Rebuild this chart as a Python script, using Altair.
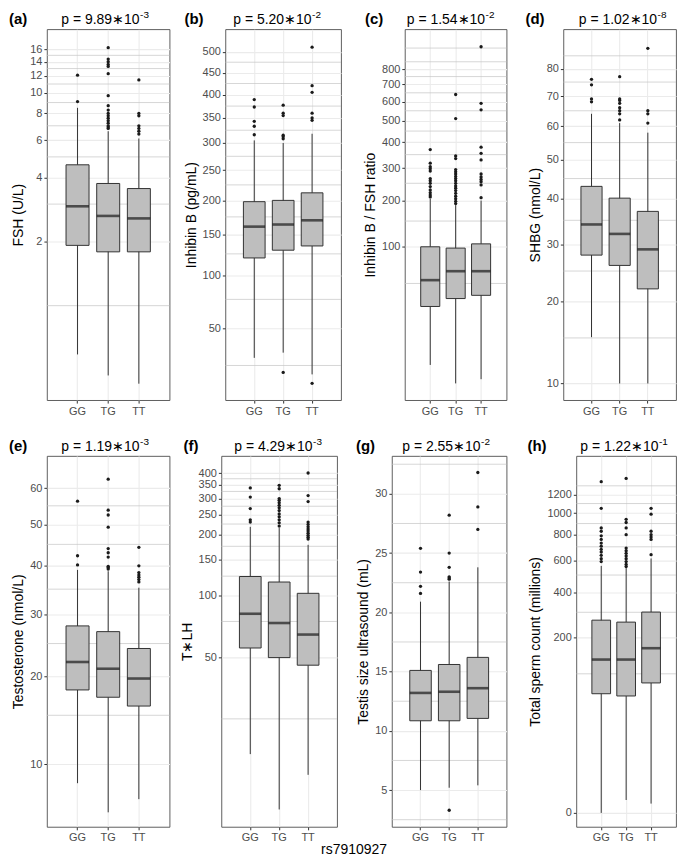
import altair as alt
import pandas as pd

GENOTYPES = ["GG", "TG", "TT"]

# ---------------- (a) FSH ----------------
FSH_LOWER = [0.59, 0.47, 0.43]
FSH_Q1 = [1.92, 1.79, 1.79]
FSH_MED = [2.93, 2.64, 2.57]
FSH_Q3 = [4.59, 3.75, 3.55]
FSH_UPPER = [8.5, 6.6, 6.1]
FSH_OUT_GG = [9.1, 12.1]
FSH_OUT_TG = [6.8, 6.9, 7.0, 7.2, 7.4, 7.6, 7.8, 8.0, 8.3, 8.7, 9.7, 12.3, 13.3, 13.6, 14.0, 14.4, 16.3]
FSH_OUT_TT = [6.4, 6.6, 6.8, 7.0, 7.8, 8.0, 11.5]
FSH_TICKS = [2, 4, 6, 8, 10, 12, 14, 16]
FSH_MINOR = [1, 3, 5, 7, 9, 11, 13, 15]

# ---------------- (b) Inhibin B ----------------
INH_LOWER = [29.4, 32.6, 20.3]
INH_Q1 = [120, 129.6, 135]
INH_MED = [161, 164, 170]
INH_Q3 = [198, 200, 212]
INH_UPPER = [305, 300, 318]
INH_OUT_GG = [316, 333, 343, 373, 389]
INH_OUT_TG = [21.3, 308, 312, 315, 355, 360, 377]
INH_OUT_TT = [16.1, 345, 350, 360, 405, 420, 512]
INH_TICKS = [50, 100, 150, 200, 250, 300, 350, 400, 450, 500]
INH_MINOR = [25, 75, 125, 175, 225, 275, 325, 375, 425, 475]

# ---------------- (c) Inhibin B / FSH ----------------
RAT_LOWER = [3.77, 1.24, 1.66]
RAT_Q1 = [29.3, 35.6, 38.4]
RAT_MED = [53.6, 64.2, 64.2]
RAT_Q3 = [100, 97.8, 105]
RAT_UPPER = [205, 188, 200]
RAT_OUT_GG = [210, 215, 222, 230, 240, 250, 258, 265, 290, 298, 305, 318, 370]
RAT_OUT_TG = [192, 198, 205, 212, 220, 228, 235, 242, 250, 258, 265, 272, 280, 288, 295, 335, 345, 510, 640]
RAT_OUT_TT = [208, 245, 255, 262, 270, 280, 330, 355, 380, 555, 590, 960]
RAT_TICKS = [100, 200, 300, 400, 500, 600, 700, 800]
RAT_MINOR = [50, 150, 250, 350, 450, 550, 650, 750, 850, 950]

# ---------------- (d) SHBG ----------------
SHBG_LOWER = [15.1, 10, 10]
SHBG_Q1 = [27.9, 26.0, 22.0]
SHBG_MED = [34.1, 32.1, 29.0]
SHBG_Q3 = [43.0, 40.1, 37.0]
SHBG_UPPER = [64, 61, 58]
SHBG_OUT_GG = [68, 69, 74, 76]
SHBG_OUT_TG = [62, 64, 65, 66, 67.5, 68.5, 69, 77]
SHBG_OUT_TT = [61, 64, 65, 88]
SHBG_TICKS = [10, 20, 30, 40, 50, 60, 70, 80]
SHBG_MINOR = [15, 25, 35, 45, 55, 65, 75, 85]

# ---------------- (e) Testosterone ----------------
TES_LOWER = [8.4, 6.3, 7.2]
TES_Q1 = [18.15, 17.2, 16.1]
TES_MED = [22.1, 21.1, 19.7]
TES_Q3 = [28.0, 27.0, 24.2]
TES_UPPER = [39.1, 38.8, 35.3]
TES_OUT_GG = [40.2, 42.3, 56.3]
TES_OUT_TG = [39.3, 39.6, 39.9, 42.0, 43.0, 44.0, 49.3, 52.5, 53.8, 62.7]
TES_OUT_TT = [36.5, 37.0, 37.5, 38.0, 38.5, 40.0, 44.3]
TES_TICKS = [10, 20, 30, 40, 50, 60]
TES_MINOR = [15, 25, 35, 45, 55]

# ---------------- (f) T*LH ----------------
TLH_LOWER = [16.8, 9.0, 13.3]
TLH_Q1 = [55.6, 49.9, 45.8]
TLH_MED = [81.8, 73.7, 64.7]
TLH_Q3 = [124.5, 117, 103]
TLH_UPPER = [218, 215, 178]
TLH_OUT_GG = [230, 236, 268, 305, 338]
TLH_OUT_TG = [220, 228, 236, 244, 252, 262, 270, 278, 286, 294, 300, 335, 348]
TLH_OUT_TT = [190, 194, 198, 203, 208, 213, 218, 224, 230, 290, 310, 400]
TLH_TICKS = [50, 100, 150, 200, 250, 300, 350, 400]
TLH_MINOR = [25, 75, 125, 175, 225, 275, 325, 375]

# ---------------- (g) Testis size ----------------
TST_LOWER = [5.0, 5.2, 5.4]
TST_Q1 = [10.85, 10.85, 11.05]
TST_MED = [13.2, 13.3, 13.6]
TST_Q3 = [15.1, 15.6, 16.2]
TST_UPPER = [20.9, 22.6, 23.8]
TST_OUT_GG = [21.6, 22.2, 23.4, 25.4]
TST_OUT_TG = [3.3, 22.8, 22.9, 23.0, 23.8, 25.0, 28.2]
TST_OUT_TT = [27.0, 28.9, 31.8]
TST_TICKS = [5, 10, 15, 20, 25, 30]
TST_MINOR = [2.5, 7.5, 12.5, 17.5, 22.5, 27.5, 32.5]

# ---------------- (h) Total sperm count ----------------
SPC_LOWER = [0, 0.08, 0.03]
SPC_Q1 = [62.9, 59.4, 81.6]
SPC_MED = [134, 134, 166]
SPC_Q3 = [266, 258, 301]
SPC_UPPER = [560, 545, 612]
SPC_OUT_GG = [590, 610, 635, 660, 680, 705, 730, 760, 790, 830, 860, 1050, 1350]
SPC_OUT_TG = [555, 570, 590, 610, 630, 650, 670, 690, 800, 860, 910, 940, 1390]
SPC_OUT_TT = [640, 760, 780, 800, 830, 990, 1050]
SPC_TICKS = [0, 200, 400, 600, 800, 1000, 1200]
SPC_MINOR = [100, 300, 500, 700, 900, 1100, 1300]

FONT = "Liberation Sans"
H = 372


def panel(letter, pmain, pexp, ytitle, scale, ticks, minors, lower, q1, med, q3,
          upper, outs, width, lab_dx=-38, title_dx=0, extra=None):
    box_df = pd.DataFrame({"g": GENOTYPES, "lower": lower, "q1": q1, "med": med,
                           "q3": q3, "upper": upper})
    out_df = pd.DataFrame([{"g": g, "v": v} for g, vals in zip(GENOTYPES, outs) for v in vals])
    minor_df = pd.DataFrame({"m": minors})
    one = pd.DataFrame({"k": [0]})

    band = 0.75 * width / 4.0
    xs = alt.Scale(type="band", domain=GENOTYPES, paddingInner=0.25, paddingOuter=0.625)
    xax = alt.Axis(title=None, labelAngle=0, bandPosition=0.5, grid=True,
                   gridColor="#ebebeb", gridWidth=1.1, labelPadding=2)
    X = alt.X("g:N", scale=xs, axis=xax, sort=GENOTYPES)
    yax = alt.Axis(values=ticks, title=ytitle, grid=True, gridColor="#ebebeb",
                   gridWidth=1.1, labelPadding=2, titlePadding=4, format="d")

    minor = alt.Chart(minor_df).mark_rule(color="#c4c4c4", strokeWidth=0.7).encode(
        y=alt.Y("m:Q", scale=scale, axis=yax))
    whisk = alt.Chart(box_df).mark_rule(color="#333333", strokeWidth=1).encode(
        x=X, y=alt.Y("lower:Q", scale=scale, axis=yax), y2="upper:Q")
    box = alt.Chart(box_df).mark_bar(fill="#bebebe", stroke="#333333", strokeWidth=1).encode(
        x=X, y=alt.Y("q1:Q", scale=scale, axis=yax), y2="q3:Q")
    medi = alt.Chart(box_df).mark_tick(color="#1a1a1a", thickness=2.6, size=band).encode(
        x=X, y=alt.Y("med:Q", scale=scale, axis=yax))
    pts = alt.Chart(out_df).mark_circle(color="#1a1a1a", opacity=1, size=11).encode(
        x=X, y=alt.Y("v:Q", scale=scale, axis=yax))

    x0 = width / 2.0 + 31.5 + title_dx
    lab = alt.Chart(one).mark_text(text=letter, font=FONT, fontSize=15, fontWeight="bold",
                                   align="left", baseline="alphabetic", color="#000").encode(
        x=alt.value(lab_dx), y=alt.value(-5))
    ptxt = alt.Chart(one).mark_text(text=pmain, font=FONT, fontSize=14, align="right",
                                    baseline="alphabetic", color="#000").encode(
        x=alt.value(x0), y=alt.value(-5))
    pex = alt.Chart(one).mark_text(text=pexp, font=FONT, fontSize=10, align="left",
                                   baseline="alphabetic", color="#000").encode(
        x=alt.value(x0 + 0.5), y=alt.value(-11))
    layers = [minor, whisk, box, medi, pts, lab, ptxt, pex]
    if extra is not None:
        layers.append(extra)
    return alt.layer(*layers).properties(width=width, height=H)


def spacer(w):
    return alt.Chart(pd.DataFrame({"k": [0]})).mark_point(opacity=0).encode(
        x=alt.value(0), y=alt.value(0)).properties(
        width=w, height=H, view=alt.ViewBackground(stroke="transparent"))


def pw(e):
    return alt.Scale(type="pow", exponent=1 / 3, domain=e, nice=False, zero=False)


pa = panel("(a)", "p = 9.89\u221710", "-3", "FSH (U/L)",
           alt.Scale(type="log", domain=[0.36, 19.9], nice=False),
           FSH_TICKS, FSH_MINOR, FSH_LOWER, FSH_Q1, FSH_MED, FSH_Q3, FSH_UPPER,
           [FSH_OUT_GG, FSH_OUT_TG, FSH_OUT_TT], 123, lab_dx=-38, title_dx=0)
pb = panel("(b)", "p = 5.20\u221710", "-2", "Inhibin B (pg/mL)",
           alt.Scale(type="sqrt", domain=[9.5, 558], nice=False, zero=False),
           INH_TICKS, INH_MINOR, INH_LOWER, INH_Q1, INH_MED, INH_Q3, INH_UPPER,
           [INH_OUT_GG, INH_OUT_TG, INH_OUT_TT], 116, lab_dx=-41, title_dx=-3)
pc = panel("(c)", "p = 1.54\u221710", "-2", "Inhibin B / FSH ratio",
           pw([0.26, 1100]),
           RAT_TICKS, RAT_MINOR, RAT_LOWER, RAT_Q1, RAT_MED, RAT_Q3, RAT_UPPER,
           [RAT_OUT_GG, RAT_OUT_TG, RAT_OUT_TT], 102, lab_dx=-40, title_dx=-2)
pd_ = panel("(d)", "p = 1.02\u221710", "-8", "SHBG (nmol/L)",
            pw([8.5, 96]),
            SHBG_TICKS, SHBG_MINOR, SHBG_LOWER, SHBG_Q1, SHBG_MED, SHBG_Q3, SHBG_UPPER,
            [SHBG_OUT_GG, SHBG_OUT_TG, SHBG_OUT_TT], 113, lab_dx=-38, title_dx=6)

xtitle = alt.Chart(pd.DataFrame({"k": [0]})).mark_text(
    text="rs7910927", font=FONT, fontSize=14, align="center", baseline="alphabetic",
    color="#000").encode(x=alt.value(133), y=alt.value(H + 27))

pe = panel("(e)", "p = 1.19\u221710", "-3", "Testosterone (nmol/L)",
           pw([5.4, 70]),
           TES_TICKS, TES_MINOR, TES_LOWER, TES_Q1, TES_MED, TES_Q3, TES_UPPER,
           [TES_OUT_GG, TES_OUT_TG, TES_OUT_TT], 123, lab_dx=-38, title_dx=0)
pf = panel("(f)", "p = 4.29\u221710", "-3", "T\u2217LH",
           alt.Scale(type="log", domain=[7.4, 485], nice=False),
           TLH_TICKS, TLH_MINOR, TLH_LOWER, TLH_Q1, TLH_MED, TLH_Q3, TLH_UPPER,
           [TLH_OUT_GG, TLH_OUT_TG, TLH_OUT_TT], 116, lab_dx=-38, title_dx=2, extra=xtitle)
pg = panel("(g)", "p = 2.55\u221710", "-2", "Testis size ultrasound (mL)",
           alt.Scale(type="linear", domain=[1.9, 33.2], nice=False, zero=False),
           TST_TICKS, TST_MINOR, TST_LOWER, TST_Q1, TST_MED, TST_Q3, TST_UPPER,
           [TST_OUT_GG, TST_OUT_TG, TST_OUT_TT], 115, lab_dx=-36, title_dx=0)
ph = panel("(h)", "p = 1.22\u221710", "-1", "Total sperm count (millions)",
           pw([-0.1, 1690]),
           SPC_TICKS, SPC_MINOR, SPC_LOWER, SPC_Q1, SPC_MED, SPC_Q3, SPC_UPPER,
           [SPC_OUT_GG, SPC_OUT_TG, SPC_OUT_TT], 100, lab_dx=-49, title_dx=1)

row1 = alt.hconcat(pa, spacer(56), pb, spacer(64), pc, spacer(57), pd_,
                   spacing=0, bounds="flush")
row2 = alt.hconcat(pe, spacer(52), pf, spacer(55), pg, spacer(70), ph,
                   spacing=0, bounds="flush")

chart = alt.vconcat(row1, row2, spacing=19).properties(
    padding=0, background="white"
).configure_view(
    stroke="#4d4d4d", strokeWidth=0.9
).configure_axis(
    labelFont=FONT, titleFont=FONT, labelColor="#4d4d4d", labelFontSize=11,
    titleFontSize=14, titleFontWeight="normal", titleColor="#000000",
    tickColor="#333333", tickSize=3, domain=False
)

chart.save("out.html", embed_options={"renderer": "svg", "actions": False})
